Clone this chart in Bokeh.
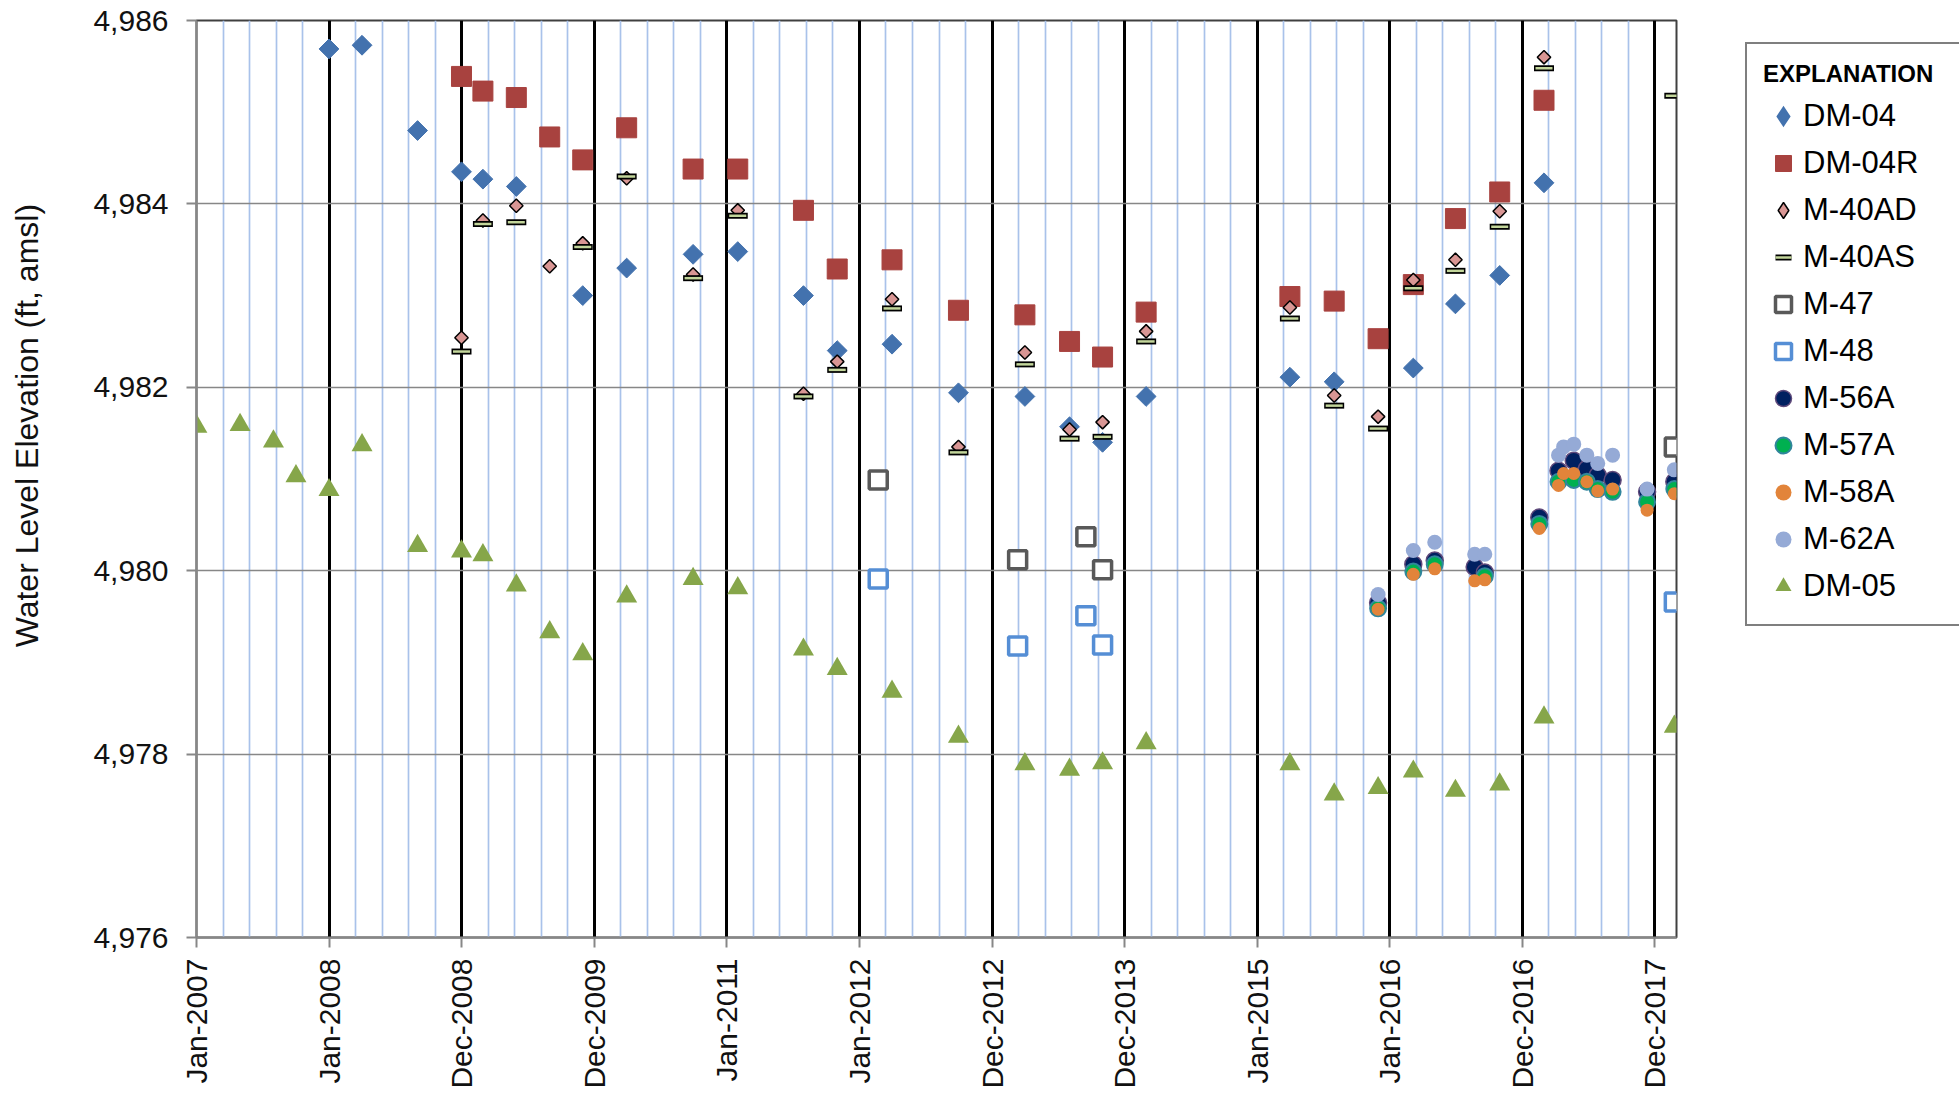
import numpy as np
import pandas as pd
from bokeh.plotting import figure
from bokeh.models import (Range1d, FixedTicker, NumeralTickFormatter, DatetimeTickFormatter,
                          Legend, LegendItem)
from bokeh.embed import file_html
from bokeh.resources import INLINE

# ---------------- data ----------------
x_tick_labels = ["Jan-2007", "Jan-2008", "Dec-2008", "Dec-2009", "Jan-2011", "Jan-2012",
                 "Dec-2012", "Dec-2013", "Jan-2015", "Jan-2016", "Dec-2016", "Dec-2017"]
y_ticks = [4976, 4978, 4980, 4982, 4984, 4986]

dm04_dates = ["2008-01-01", "2008-04-01", "2008-09-01", "2008-12-31", "2009-02-28", "2009-05-31",
              "2009-11-30", "2010-03-31", "2010-09-30", "2011-01-31", "2011-07-31", "2011-11-01",
              "2012-03-31", "2012-09-30", "2013-04-01", "2013-08-02", "2013-11-01", "2014-03-01",
              "2015-04-01", "2015-08-01", "2016-03-06", "2016-06-30", "2016-10-30", "2017-03-01"]
dm04_vals = [4985.69, 4985.73, 4984.80, 4984.35, 4984.27, 4984.19,
             4983.00, 4983.30, 4983.45, 4983.48, 4983.00, 4982.40,
             4982.47, 4981.94, 4981.90, 4981.57, 4981.40, 4981.90,
             4982.11, 4982.06, 4982.21, 4982.91, 4983.22, 4984.23]

dm04r_dates = ["2008-12-31", "2009-02-28", "2009-05-31", "2009-08-31", "2009-11-30", "2010-03-31",
               "2010-09-30", "2011-01-31", "2011-07-31", "2011-11-01", "2012-03-31", "2012-09-30",
               "2013-04-01", "2013-08-02", "2013-11-01", "2014-03-01", "2015-04-01", "2015-08-01",
               "2015-11-30", "2016-03-06", "2016-06-30", "2016-10-30", "2017-03-01"]
dm04r_vals = [4985.39, 4985.23, 4985.16, 4984.73, 4984.48, 4984.83,
              4984.38, 4984.38, 4983.93, 4983.29, 4983.39, 4982.84,
              4982.79, 4982.50, 4982.33, 4982.82, 4982.99, 4982.94,
              4982.53, 4983.12, 4983.84, 4984.13, 4985.13]

m40ad_dates = ["2008-12-31", "2009-02-28", "2009-05-31", "2009-08-31", "2009-11-30", "2010-03-31",
               "2010-09-30", "2011-01-31", "2011-07-31", "2011-11-01", "2012-03-31", "2012-09-30",
               "2013-04-01", "2013-08-02", "2013-11-01", "2014-03-01", "2015-04-01", "2015-08-01",
               "2015-11-30", "2016-03-06", "2016-06-30", "2016-10-30", "2017-03-01"]
m40ad_vals = [4982.54, 4983.82, 4983.98, 4983.32, 4983.57, 4984.28,
              4983.23, 4983.93, 4981.93, 4982.28, 4982.96, 4981.35,
              4982.38, 4981.54, 4981.62, 4982.61, 4982.87, 4981.91,
              4981.68, 4983.17, 4983.39, 4983.92, 4985.60]

m40as_dates = ["2008-12-31", "2009-02-28", "2009-05-31", "2009-11-30", "2010-03-31", "2010-09-30",
               "2011-01-31", "2011-07-31", "2011-11-01", "2012-03-31", "2012-09-30", "2013-04-01",
               "2013-08-02", "2013-11-01", "2014-03-01", "2015-04-01", "2015-08-01", "2015-11-30",
               "2016-03-06", "2016-06-30", "2016-10-30", "2017-03-01", "2018-02-23"]
m40as_vals = [4982.39, 4983.78, 4983.80, 4983.53, 4984.30, 4983.19,
              4983.87, 4981.90, 4982.19, 4982.86, 4981.29, 4982.25,
              4981.44, 4981.46, 4982.50, 4982.75, 4981.80, 4981.55,
              4983.08, 4983.27, 4983.75, 4985.48, 4985.18]

m47_dates = ["2012-02-22", "2013-03-12", "2013-09-16", "2013-11-01", "2018-02-23"]
m47_vals = [4980.99, 4980.12, 4980.37, 4980.01, 4981.35]

m48_dates = ["2012-02-22", "2013-03-12", "2013-09-16", "2013-11-01", "2018-02-23"]
m48_vals = [4979.91, 4979.18, 4979.51, 4979.19, 4979.66]

m56a_dates = ["2015-11-30", "2016-03-06", "2016-05-04", "2016-08-22", "2016-09-19", "2017-02-16",
              "2017-04-10", "2017-05-22", "2017-06-27", "2017-07-27", "2017-09-06", "2017-12-10",
              "2018-02-23"]
m56a_vals = [4979.65, 4980.07, 4980.11, 4980.04, 4979.98, 4980.58,
             4981.09, 4981.20, 4981.11, 4981.04, 4980.99, 4980.86, 4980.97]

m57a_dates = ["2015-11-30", "2016-03-06", "2016-05-04", "2016-09-19", "2017-02-16", "2017-04-10",
              "2017-05-22", "2017-06-27", "2017-07-27", "2017-09-06", "2017-12-10", "2018-02-23"]
m57a_vals = [4979.59, 4979.99, 4980.07, 4979.94, 4980.51, 4980.97,
             4980.99, 4980.97, 4980.89, 4980.86, 4980.75, 4980.89]

m58a_dates = ["2015-11-30", "2016-03-06", "2016-05-04", "2016-08-22", "2016-09-19", "2017-02-16",
              "2017-04-10", "2017-04-24", "2017-05-22", "2017-06-27", "2017-07-27", "2017-09-06",
              "2017-12-10", "2018-02-23"]
m58a_vals = [4979.58, 4979.96, 4980.02, 4979.89, 4979.90, 4980.46,
             4980.93, 4981.06, 4981.06, 4980.97, 4980.87, 4980.89, 4980.66, 4980.84]

m62a_dates = ["2015-11-30", "2016-03-06", "2016-05-04", "2016-08-22", "2016-09-19", "2017-04-10",
              "2017-04-24", "2017-05-22", "2017-06-27", "2017-07-27", "2017-09-06", "2017-12-10",
              "2018-02-23"]
m62a_vals = [4979.74, 4980.22, 4980.31, 4980.18, 4980.18, 4981.26,
             4981.35, 4981.38, 4981.26, 4981.17, 4981.26, 4980.89, 4981.10]

dm05_dates = ["2007-01-02", "2007-05-01", "2007-08-01", "2007-10-02", "2008-01-01", "2008-04-01",
              "2008-09-01", "2008-12-31", "2009-02-28", "2009-05-31", "2009-08-31", "2009-11-30",
              "2010-03-31", "2010-09-30", "2011-01-31", "2011-07-31", "2011-11-01", "2012-03-31",
              "2012-09-30", "2013-04-01", "2013-08-02", "2013-11-01", "2014-03-01", "2015-04-01",
              "2015-08-01", "2015-11-30", "2016-03-06", "2016-06-30", "2016-10-30", "2017-03-01",
              "2018-02-23"]
dm05_vals = [4981.57, 4981.59, 4981.41, 4981.03, 4980.88, 4981.37,
             4980.27, 4980.21, 4980.17, 4979.84, 4979.33, 4979.09,
             4979.72, 4979.91, 4979.81, 4979.14, 4978.93, 4978.68,
             4978.19, 4977.89, 4977.83, 4977.90, 4978.12, 4977.89,
             4977.56, 4977.63, 4977.81, 4977.60, 4977.67, 4978.40,
             4978.30]

x_start = "2007-01-02"
x_end = "2018-03-01"
y_title = "Water Level Elevation (ft, amsl)"
legend_title = "EXPLANATION"


def dt(lst):
    return pd.to_datetime(lst)


# ---------------- figure ----------------
FRAME_W, FRAME_H = 1480, 917
BL, BT = 196, 20
p = figure(frame_width=FRAME_W, frame_height=FRAME_H, x_axis_type="datetime",
           x_range=Range1d(pd.Timestamp("2007-01-01"), pd.Timestamp(x_end)),
           y_range=Range1d(y_ticks[0], y_ticks[-1]),
           output_backend="svg", toolbar_location=None,
           min_border_left=BL, min_border_right=274, min_border_top=BT, min_border_bottom=152,
           background_fill_color="white", border_fill_color="white")

p.outline_line_color = "#404040"
p.outline_line_width = 2

ms_day = 86400000.0
t0 = pd.Timestamp("2007-01-01").value / 1e6
major_ms = [t0 + k * 365.25 * ms_day for k in range(len(x_tick_labels))]
minor_ms = [t0 + k * 73.05 * ms_day for k in range(1, 56) if k % 5 != 0]

p.xaxis.ticker = FixedTicker(ticks=major_ms, minor_ticks=minor_ms)
fmt = "%b-%Y"
p.xaxis.formatter = DatetimeTickFormatter(milliseconds=fmt, seconds=fmt, minsec=fmt, minutes=fmt,
                                          hourmin=fmt, hours=fmt, days=fmt, months=fmt, years=fmt)
p.xaxis.major_label_overrides = {m: lab for m, lab in zip(major_ms, x_tick_labels)}
p.xaxis.major_label_orientation = np.pi / 2
p.xaxis.major_label_standoff = 11

p.yaxis.ticker = FixedTicker(ticks=y_ticks)
p.yaxis.formatter = NumeralTickFormatter(format="0,0")
p.yaxis.major_label_standoff = 18

for ax in (p.xaxis, p.yaxis):
    ax.major_label_text_font = "Liberation Sans"
    ax.major_label_text_font_size = "30px"
    ax.major_label_text_color = "#111111"
    ax.axis_line_color = "#878787"
    ax.axis_line_width = 2
    ax.major_tick_line_color = "#878787"
    ax.major_tick_line_width = 2
    ax.major_tick_out = 10
    ax.major_tick_in = 0
    ax.minor_tick_line_color = None

# y-axis title: leading no-break spaces lift the visible text above the frame centre
p.yaxis.axis_label = "\u00a0" * 12 + y_title
p.yaxis.axis_label_text_font = "Liberation Sans"
p.yaxis.axis_label_text_font_size = "32px"
p.yaxis.axis_label_text_font_style = "normal"
p.yaxis.axis_label_text_color = "#111111"
p.yaxis.axis_label_standoff = 45

p.xgrid.grid_line_color = "black"
p.xgrid.grid_line_width = 3
p.xgrid.minor_grid_line_color = "#A9C2EA"
p.xgrid.minor_grid_line_width = 1.7
p.ygrid.grid_line_color = "#878787"
p.ygrid.grid_line_width = 1.5

# ---------------- series ----------------
r_dm04 = p.scatter(x=dt(dm04_dates), y=dm04_vals, marker="square", angle=np.pi / 4, size=14,
                   fill_color="#4372AE", line_color="#4372AE")
r_dm04r = p.scatter(x=dt(dm04r_dates), y=dm04r_vals, marker="square", size=20,
                    fill_color="#A8423F", line_color="#A8423F")
r_m40ad = p.scatter(x=dt(m40ad_dates), y=m40ad_vals, marker="square", angle=np.pi / 4, size=9.5,
                    fill_color="#D99694", line_color="black", line_width=1.5)
r_m40as_o = p.scatter(x=dt(m40as_dates), y=m40as_vals, marker="dash", size=20,
                      line_color="black", line_width=6)
r_m40as_i = p.scatter(x=dt(m40as_dates), y=m40as_vals, marker="dash", size=17,
                      line_color="#C3D69B", line_width=2.5)
r_m47 = p.scatter(x=dt(m47_dates), y=m47_vals, marker="square", size=18,
                  fill_color="white", line_color="#595959", line_width=3.5)
r_m48 = p.scatter(x=dt(m48_dates), y=m48_vals, marker="square", size=18,
                  fill_color="white", line_color="#558ED5", line_width=3.5)
r_m56a = p.scatter(x=dt(m56a_dates), y=m56a_vals, marker="circle", size=17,
                   fill_color="#002060", line_color="#604A7B", line_width=1.5)
r_m57a = p.scatter(x=dt(m57a_dates), y=m57a_vals, marker="circle", size=16,
                   fill_color="#00B050", line_color="#31859C", line_width=2)
r_m58a = p.scatter(x=dt(m58a_dates), y=m58a_vals, marker="circle", size=13,
                   fill_color="#E2843A", line_color=None)
r_m62a = p.scatter(x=dt(m62a_dates), y=m62a_vals, marker="circle", size=15,
                   fill_color="#95AAD6", line_color=None)
r_dm05 = p.scatter(x=dt(dm05_dates), y=dm05_vals, marker="triangle", size=21,
                   fill_color="#86A64A", line_color=None)

# hidden twins used only for the legend swatches (the legend never rotates markers)
lg_dm04 = p.scatter(x=dt(dm04_dates), y=dm04_vals, marker="diamond", size=14,
                    fill_color="#4372AE", line_color="#4372AE", line_width=3,
                    line_join="miter", visible=False)
lg_m40ad = p.scatter(x=dt(m40ad_dates), y=m40ad_vals, marker="diamond", size=10,
                     fill_color="#D99694", line_color="black", line_width=1.5, visible=False)

items = [
    LegendItem(label="DM-04", renderers=[lg_dm04]),
    LegendItem(label="DM-04R", renderers=[r_dm04r]),
    LegendItem(label="M-40AD", renderers=[lg_m40ad]),
    LegendItem(label="M-40AS", renderers=[r_m40as_o, r_m40as_i]),
    LegendItem(label="M-47", renderers=[r_m47]),
    LegendItem(label="M-48", renderers=[r_m48]),
    LegendItem(label="M-56A", renderers=[r_m56a]),
    LegendItem(label="M-57A", renderers=[r_m57a]),
    LegendItem(label="M-58A", renderers=[r_m58a]),
    LegendItem(label="M-62A", renderers=[r_m62a]),
    LegendItem(label="DM-05", renderers=[r_dm05]),
]
legend = Legend(items=items, title=legend_title, location=(69, 311), margin=0,
                title_text_font="Liberation Sans", title_text_font_style="bold",
                title_text_font_size="24px", title_text_color="black", title_standoff=6,
                label_text_font="Liberation Sans", label_text_font_size="31px",
                label_text_color="black",
                glyph_width=40, glyph_height=44, label_height=44, label_width=142,
                label_standoff=-5, spacing=3, padding=16,
                border_line_color="black", border_line_width=2.5,
                background_fill_color="white", background_fill_alpha=1.0,
                inactive_fill_alpha=0.0)
p.add_layout(legend, "right")

open("out.html", "w").write(file_html(p, INLINE))
